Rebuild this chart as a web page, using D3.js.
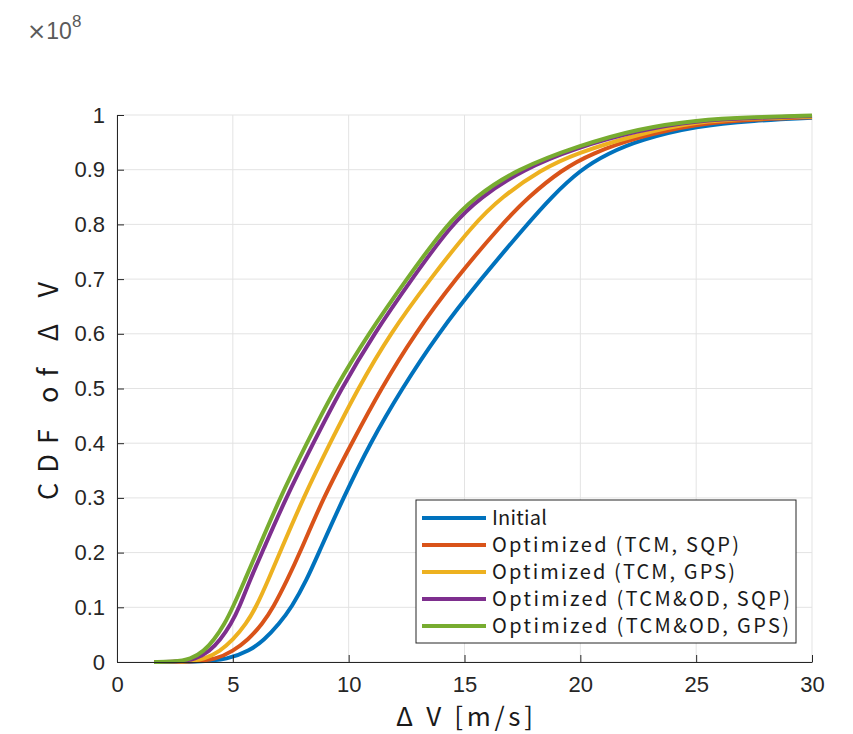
<!DOCTYPE html>
<html lang="en">
  <head>
    <meta charset="UTF-8" />
    <title>CDF of dV</title>
    <style>
      body {
        margin: 0;
        overflow: hidden;
        background: #fff;
      }
      .tick text {
        font-family: "Liberation Sans", Arial, sans-serif;
        font-size: 22px;
        fill: #262626;
      }
      .tick line {
        stroke: #262626;
      }
      .domain {
        stroke: #262626;
        stroke-width: 1px;
      }
      .grid line {
        stroke: #e3e3e3;
        stroke-width: 1px;
      }
      .label {
        font-family: "Noto Sans CJK JP", sans-serif;
        fill: #1a1a1a;
      }
    </style>
    <script src="https://unpkg.com/d3@7.8.1/dist/d3.min.js"></script>
  </head>
  <body>
    <script>
      const { select, scaleLinear, axisLeft, axisBottom, line, curveBasis } = d3;

//Data
      const seriesNames = [
        "Initial",
        "Optimized (TCM, SQP)",
        "Optimized (TCM, GPS)",
        "Optimized (TCM&OD, SQP)",
        "Optimized (TCM&OD, GPS)"
      ];
      const colors = ["#0072BD", "#D95319", "#EDB120", "#7E2F8E", "#77AC30"];
      // legend text widths as measured on the picture
      const legendWidths = [55, 247, 243, 298, 297];

      // [dV, CDF] pairs
      const initial = [[1.6,0],[3.5,0],[4.8,0.005],[5.7,0.02],[6.35,0.04],[7.0,0.07],[7.54,0.1],[8.19,0.15],[8.71,0.2],[9.77,0.3],[10.92,0.4],[12.3,0.5],[13.85,0.6],[15.7,0.7],[17.7,0.8],[18.75,0.85],[20,0.9],[21.2,0.93],[22.6,0.955],[25,0.98],[27.5,0.99],[30,0.995]];
      const tcmSqp = [[1.6,0],[3.2,0],[4.3,0.005],[5.0,0.02],[5.65,0.04],[6.28,0.07],[6.75,0.1],[7.35,0.15],[7.9,0.2],[8.9,0.3],[10.13,0.4],[11.4,0.5],[12.85,0.6],[14.6,0.7],[16.6,0.8],[17.75,0.85],[19.2,0.9],[20.5,0.93],[22.5,0.96],[25,0.984],[27.5,0.992],[30,0.996]];
      const tcmGps = [[1.6,0],[2.9,0],[3.8,0.005],[4.45,0.02],[5.0,0.04],[5.58,0.07],[6.0,0.1],[6.53,0.15],[7.03,0.2],[8.04,0.3],[9.19,0.4],[10.4,0.5],[11.78,0.6],[13.51,0.7],[15.38,0.8],[16.6,0.85],[18.3,0.9],[19.8,0.93],[22.5,0.965],[25,0.988],[27.5,0.994],[30,0.997]];
      const tcmOdSqp = [[1.6,0],[2.6,0],[3.4,0.005],[4.0,0.02],[4.45,0.04],[4.93,0.07],[5.28,0.1],[5.74,0.15],[6.26,0.2],[7.29,0.3],[8.47,0.4],[9.68,0.5],[11.09,0.6],[12.72,0.7],[14.44,0.8],[15.7,0.85],[17.5,0.9],[19.8,0.94],[22.5,0.972],[25,0.99],[27.5,0.995],[30,0.998]];
      const tcmOdGps = [[1.6,0],[2.4,0],[3.2,0.005],[3.75,0.02],[4.18,0.04],[4.65,0.07],[5.0,0.1],[5.52,0.15],[6.03,0.2],[7.03,0.3],[8.19,0.4],[9.4,0.5],[10.85,0.6],[12.5,0.7],[14.23,0.8],[15.45,0.85],[17.2,0.9],[20,0.945],[22.5,0.975],[25,0.991],[27.5,0.996],[30,0.999]];

      const xTicks = [0, 5, 10, 15, 20, 25, 30];
      const yTicks = [0, 0.1, 0.2, 0.3, 0.4, 0.5, 0.6, 0.7, 0.8, 0.9, 1];

//Layout
      const width = 853;
      const height = 734;
      const margin = { top: 115, right: 41, bottom: 72, left: 117 };

      const svg = select("body")
        .append("svg")
        .attr("width", width)
        .attr("height", height);

      const x = scaleLinear().domain([0, 30]).range([margin.left, width - margin.right]);
      const y = scaleLinear().domain([0, 1]).range([height - margin.bottom, margin.top]);

      // grid
      const grid = svg.append("g").attr("class", "grid");
      grid.selectAll(".gx").data(xTicks).enter().append("line")
        .attr("x1", d => x(d)).attr("x2", d => x(d))
        .attr("y1", y(0)).attr("y2", y(1));
      grid.selectAll(".gy").data(yTicks).enter().append("line")
        .attr("x1", x(0)).attr("x2", x(30))
        .attr("y1", d => y(d)).attr("y2", d => y(d));

      // curves
      const allSeries = [initial, tcmSqp, tcmGps, tcmOdSqp, tcmOdGps];
      const path = line()
        .x(d => x(d[0]))
        .y(d => y(d[1]))
        .curve(curveBasis);

      svg.selectAll(".curve")
        .data(allSeries)
        .enter()
        .append("path")
        .attr("class", "curve")
        .attr("d", path)
        .attr("fill", "none")
        .attr("stroke", (d, i) => colors[i])
        .attr("stroke-width", 4);

      // axes (ticks point inward, no box)
      svg.append("g")
        .attr("transform", `translate(${margin.left}, 0)`)
        .call(axisLeft(y).tickValues(yTicks).tickFormat(d3.format("~g"))
          .tickSizeInner(-7).tickSizeOuter(0).tickPadding(12));

      svg.append("g")
        .attr("transform", `translate(0, ${height - margin.bottom})`)
        .call(axisBottom(x).tickValues(xTicks)
          .tickSizeInner(-7).tickSizeOuter(0).tickPadding(14));

      // labels
      svg.append("text")
        .attr("class", "label")
        .attr("x", 396)
        .attr("y", 726)
        .attr("textLength", 137)
        .attr("lengthAdjust", "spacing")
        .style("font-size", "26px")
        .text("Δ V [m/s]");

      svg.append("text")
        .attr("class", "label")
        .attr("transform", `translate(58, 500) rotate(-90)`)
        .attr("textLength", 218)
        .attr("lengthAdjust", "spacing")
        .style("font-size", "27px")
        .text("CDF of Δ V");

      // exponent
      const expo = svg.append("text")
        .attr("x", 27)
        .attr("y", 39)
        .style("font-family", "Liberation Sans, Arial, sans-serif")
        .style("font-size", "23px")
        .attr("fill", "#5a5a5a");
      expo.append("tspan").style("font-family", "DejaVu Sans").text("×");
      expo.append("tspan").text("10");
      expo.append("tspan").attr("dy", -12).style("font-size", "17px").text("8");

      // legend
      const legend = svg.append("g").attr("transform", "translate(416, 500)");
      legend.append("rect")
        .attr("width", 380)
        .attr("height", 143)
        .attr("fill", "#fff")
        .attr("stroke", "#262626")
        .attr("stroke-width", 1);

      const item = legend.selectAll(".item")
        .data(seriesNames)
        .enter()
        .append("g")
        .attr("transform", (d, i) => `translate(0, ${18 + i * 27})`);
      item.append("line")
        .attr("x1", 6).attr("x2", 70)
        .attr("stroke", (d, i) => colors[i])
        .attr("stroke-width", 4);
      item.append("text")
        .attr("class", "label")
        .attr("x", 76)
        .attr("dy", "0.36em")
        .attr("textLength", (d, i) => legendWidths[i])
        .attr("lengthAdjust", "spacing")
        .style("font-size", "20px")
        .text(d => d);
    </script>
  </body>
</html>
